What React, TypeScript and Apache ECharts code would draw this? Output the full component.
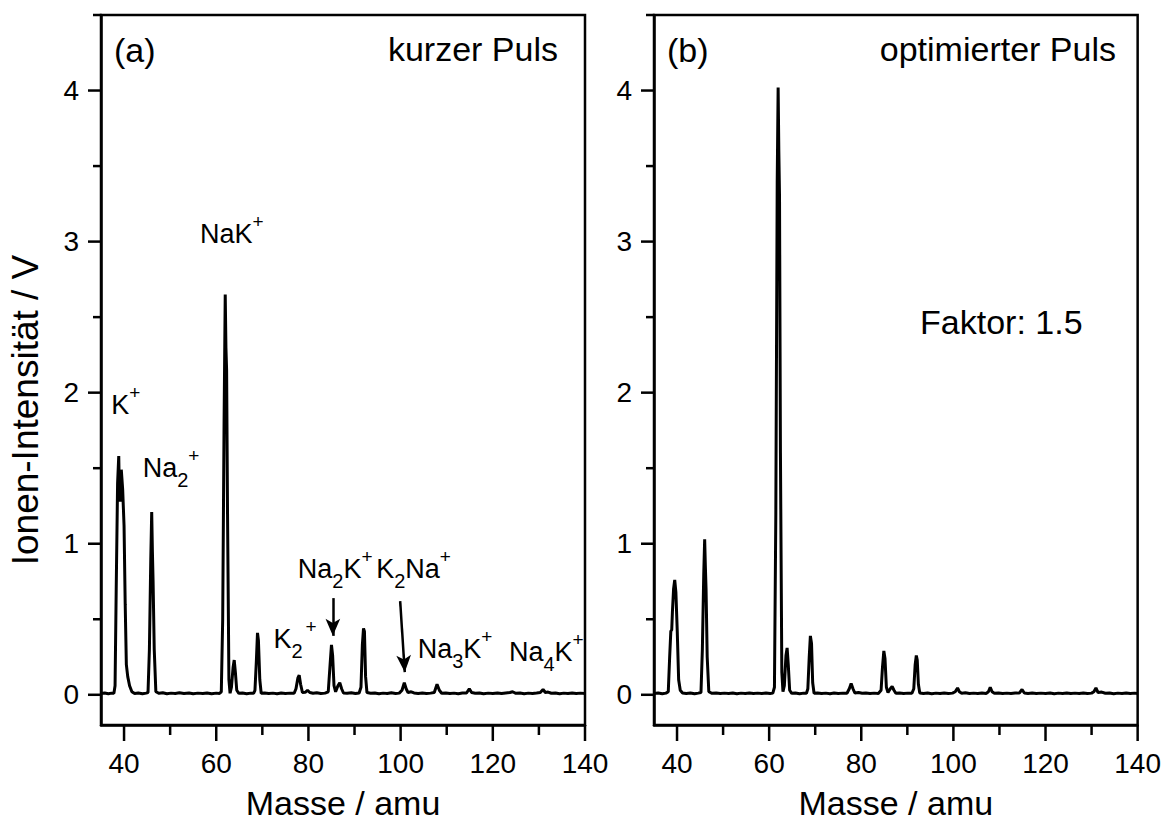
import React, { useEffect, useRef } from "react";
import * as echarts from "echarts";

// ---------- data ----------
const spectrumA: [number, number][] = [
  [35.0, 0.008],[35.8, 0.012],[36.6, 0.007],[37.3, 0.011],[37.8, 0.01],[38.05, 0.06],[38.3, 0.7],[38.6, 1.4],[38.85, 1.58],[39.0, 1.3],[39.15, 1.28],[39.4, 1.49],[39.7, 1.36],[40.0, 1.12],[40.25, 0.6],[40.5, 0.2],[40.8, 0.12],[41.2, 0.06],[41.7, 0.02],[42.3, 0.008],[43.1, 0.012],[44.0, 0.007],[44.8, 0.011],[45.2, 0.015],[45.5, 0.3],[45.8, 0.9],[46.0, 1.21],[46.15, 0.95],[46.3, 0.75],[46.55, 0.3],[46.9, 0.02],[47.6, 0.01],[48.4, 0.013],[49.3, 0.007],[50.2, 0.011],[51.1, 0.009],[52.0, 0.013],[53.0, 0.008],[54.1, 0.012],[55.0, 0.007],[56.0, 0.011],[57.1, 0.009],[58.0, 0.012],[59.0, 0.007],[60.0, 0.011],[60.7, 0.009],[61.1, 0.02],[61.4, 0.5],[61.7, 1.8],[61.95, 2.65],[62.1, 2.3],[62.25, 2.15],[62.45, 1.2],[62.75, 0.1],[63.0, 0.01],[63.3, 0.05],[63.65, 0.18],[63.9, 0.23],[64.15, 0.15],[64.45, 0.03],[64.9, 0.01],[65.7, 0.012],[66.6, 0.007],[67.5, 0.011],[68.1, 0.01],[68.4, 0.03],[68.7, 0.22],[68.95, 0.41],[69.15, 0.36],[69.45, 0.1],[69.75, 0.01],[70.5, 0.012],[71.4, 0.008],[72.3, 0.011],[73.2, 0.007],[74.1, 0.012],[75.0, 0.009],[76.0, 0.011],[76.9, 0.01],[77.3, 0.04],[77.7, 0.11],[78.0, 0.13],[78.3, 0.07],[78.7, 0.015],[79.3, 0.016],[79.8, 0.03],[80.3, 0.015],[81.0, 0.01],[81.8, 0.013],[82.7, 0.008],[83.6, 0.011],[84.3, 0.02],[84.7, 0.2],[85.0, 0.33],[85.25, 0.26],[85.55, 0.06],[85.9, 0.02],[86.4, 0.06],[86.8, 0.08],[87.2, 0.04],[87.6, 0.012],[88.4, 0.01],[89.3, 0.013],[90.2, 0.008],[91.0, 0.012],[91.4, 0.05],[91.7, 0.33],[91.95, 0.44],[92.15, 0.42],[92.4, 0.12],[92.7, 0.015],[93.5, 0.01],[94.4, 0.012],[95.3, 0.007],[96.2, 0.011],[97.1, 0.008],[98.0, 0.013],[98.9, 0.009],[99.7, 0.011],[100.3, 0.03],[100.8, 0.08],[101.2, 0.04],[101.6, 0.015],[102.3, 0.02],[102.9, 0.012],[103.8, 0.009],[104.7, 0.012],[105.6, 0.008],[106.5, 0.011],[107.3, 0.015],[107.9, 0.07],[108.4, 0.03],[108.9, 0.01],[109.8, 0.012],[110.7, 0.008],[111.6, 0.011],[112.5, 0.007],[113.4, 0.012],[114.3, 0.012],[114.9, 0.04],[115.4, 0.015],[116.2, 0.01],[117.1, 0.012],[118.0, 0.007],[119.0, 0.011],[120.0, 0.009],[121.0, 0.012],[121.9, 0.008],[122.8, 0.012],[123.7, 0.015],[124.3, 0.02],[125.0, 0.01],[125.9, 0.012],[126.8, 0.007],[127.7, 0.011],[128.6, 0.009],[129.5, 0.012],[130.3, 0.015],[130.9, 0.035],[131.4, 0.015],[132.0, 0.018],[132.7, 0.01],[133.6, 0.012],[134.5, 0.007],[135.4, 0.011],[136.3, 0.009],[137.2, 0.012],[138.1, 0.008],[139.0, 0.011],[140.0, 0.009],
];

const spectrumB: [number, number][] = [
  [35.0, 0.009],[35.9, 0.012],[36.8, 0.007],[37.6, 0.011],[38.1, 0.02],[38.4, 0.25],[38.65, 0.42],[38.85, 0.43],[39.0, 0.55],[39.25, 0.7],[39.5, 0.76],[39.75, 0.68],[40.05, 0.42],[40.35, 0.1],[40.7, 0.03],[41.2, 0.012],[42.0, 0.009],[42.9, 0.012],[43.8, 0.007],[44.6, 0.011],[45.2, 0.015],[45.5, 0.3],[45.8, 0.8],[46.0, 1.03],[46.15, 0.85],[46.3, 0.7],[46.55, 0.25],[46.9, 0.02],[47.6, 0.01],[48.5, 0.012],[49.4, 0.008],[50.3, 0.011],[51.2, 0.009],[52.1, 0.012],[53.0, 0.007],[53.9, 0.011],[54.8, 0.009],[55.7, 0.012],[56.6, 0.008],[57.5, 0.011],[58.4, 0.009],[59.3, 0.012],[60.2, 0.008],[60.8, 0.011],[61.15, 0.05],[61.45, 1.2],[61.75, 3.4],[61.95, 4.02],[62.1, 3.6],[62.25, 3.3],[62.45, 1.6],[62.75, 0.15],[63.0, 0.02],[63.3, 0.06],[63.65, 0.26],[63.9, 0.31],[64.15, 0.2],[64.45, 0.03],[64.9, 0.01],[65.7, 0.012],[66.6, 0.007],[67.5, 0.011],[68.1, 0.01],[68.4, 0.04],[68.7, 0.25],[68.95, 0.39],[69.1, 0.36],[69.2, 0.34],[69.45, 0.08],[69.75, 0.01],[70.5, 0.012],[71.4, 0.008],[72.3, 0.011],[73.2, 0.007],[74.1, 0.012],[75.0, 0.009],[76.0, 0.011],[76.9, 0.01],[77.4, 0.04],[77.8, 0.075],[78.2, 0.04],[78.6, 0.012],[79.4, 0.015],[80.2, 0.01],[81.0, 0.012],[81.9, 0.008],[82.8, 0.011],[83.7, 0.009],[84.3, 0.03],[84.6, 0.18],[84.9, 0.29],[85.15, 0.24],[85.45, 0.05],[85.8, 0.015],[86.3, 0.04],[86.7, 0.055],[87.1, 0.03],[87.5, 0.01],[88.3, 0.012],[89.2, 0.008],[90.1, 0.011],[91.0, 0.01],[91.4, 0.04],[91.7, 0.2],[91.95, 0.26],[92.15, 0.23],[92.4, 0.07],[92.7, 0.012],[93.5, 0.009],[94.4, 0.012],[95.3, 0.007],[96.2, 0.011],[97.1, 0.008],[98.0, 0.012],[98.9, 0.009],[99.8, 0.011],[100.4, 0.02],[100.9, 0.045],[101.3, 0.02],[101.8, 0.01],[102.6, 0.013],[103.5, 0.008],[104.4, 0.011],[105.3, 0.009],[106.2, 0.012],[107.1, 0.009],[107.6, 0.02],[108.0, 0.05],[108.4, 0.02],[108.9, 0.01],[109.8, 0.012],[110.7, 0.008],[111.6, 0.011],[112.5, 0.009],[113.4, 0.012],[114.3, 0.011],[114.9, 0.035],[115.4, 0.012],[116.2, 0.009],[117.1, 0.012],[118.0, 0.008],[119.0, 0.011],[120.0, 0.009],[121.0, 0.012],[121.9, 0.007],[122.8, 0.011],[123.7, 0.009],[124.6, 0.012],[125.5, 0.008],[126.4, 0.011],[127.3, 0.009],[128.2, 0.012],[129.1, 0.008],[130.0, 0.011],[130.5, 0.02],[130.95, 0.045],[131.4, 0.015],[132.2, 0.018],[133.0, 0.01],[133.9, 0.012],[134.8, 0.007],[135.7, 0.011],[136.6, 0.009],[137.5, 0.012],[138.4, 0.008],[139.3, 0.011],[140.0, 0.009],
];

const X_MIN = 35;
const X_MAX = 140;
const Y_MIN = -0.2;
const Y_MAX = 4.5;
const xMajorTicks = [40, 60, 80, 100, 120, 140];
const xMinorTicks = [50, 70, 90, 110, 130];
const yMajorTicks = [0, 1, 2, 3, 4];
const yMinorTicks = [0.5, 1.5, 2.5, 3.5, 4.5];

const xAxisTitle = "Masse / amu";
const yAxisTitle = "Ionen-Intensität / V";
const panelTags = ["(a)", "(b)"];
const panelTitles = ["kurzer Puls", "optimierter Puls"];

// ion annotations (rich text), anchored at data coordinates
const ionLabelsA: { text: string; at: [number, number] }[] = [
  { text: "{m|NaK}{sup|+}", at: [63.4, 3.05] },
  { text: "{m|K}{sup|+}", at: [40.4, 1.92] },
  { text: "{m|Na}{sub|2}{sup|+}", at: [50.2, 1.5] },
  { text: "{m|K}{sub|2}{sp| }{sup|+}", at: [77.1, 0.37] },
  { text: "{m|Na}{sub|2}{m|K}{sup|+}", at: [85.8, 0.83] },
  { text: "{m|K}{sub|2}{m|Na}{sup|+}", at: [102.8, 0.83] },
  { text: "{m|Na}{sub|3}{m|K}{sup|+}", at: [111.8, 0.3] },
  { text: "{m|Na}{sub|4}{m|K}{sup|+}", at: [131.6, 0.28] },
];
const ionLabelsB: { text: string; at: [number, number] }[] = [
  { text: "{m|Faktor: 1.5}", at: [110.4, 2.47] },
];

// arrows (from, to) in data coordinates
const arrowsA: [[number, number], [number, number]][] = [
  [[85.3, 0.64], [85.3, 0.39]],
  [[99.9, 0.62], [100.9, 0.15]],
];

const FONT = "'Liberation Sans', Arial, Helvetica, sans-serif";

const GRIDS = [
  { left: 101, top: 15, width: 484, height: 718 },
  { left: 654, top: 15, width: 486, height: 718 },
];

const isInt = (v: number) => Math.abs(v - Math.round(v)) < 1e-6;

function tickSeries(gi: number, values: number[], dir: "x" | "y", len: number) {
  return {
    type: "custom",
    xAxisIndex: gi,
    yAxisIndex: gi,
    silent: true,
    clip: false,
    z: 5,
    data: values.map((v) => (dir === "x" ? [v, Y_MIN] : [X_MIN, v])),
    renderItem: (_p: any, api: any) => {
      const p = api.coord([api.value(0), api.value(1)]);
      const shape =
        dir === "x"
          ? { x1: p[0], y1: p[1], x2: p[0], y2: p[1] + len }
          : { x1: p[0] - len, y1: p[1], x2: p[0], y2: p[1] };
      return { type: "line", shape, style: { stroke: "#000", lineWidth: 2.5 } };
    },
  };
}

const rich = {
  m: { fontSize: 27, fontFamily: FONT, color: "#000", lineHeight: 44 },
  sub: { fontSize: 20, fontFamily: FONT, color: "#000", lineHeight: 20, verticalAlign: "bottom" },
  sup: { fontSize: 19, fontFamily: FONT, color: "#000", lineHeight: 20, verticalAlign: "top" },
  sp: { fontSize: 10, fontFamily: FONT, color: "#000", lineHeight: 20 },
};

function labelSeries(gi: number, labels: { text: string; at: [number, number] }[], big = false) {
  return {
    type: "scatter",
    xAxisIndex: gi,
    yAxisIndex: gi,
    silent: true,
    symbolSize: 0,
    z: 10,
    itemStyle: { opacity: 1 },
    data: labels.map((l) => ({ value: l.at, label: { formatter: l.text } })),
    label: {
      show: true,
      position: "inside",
      color: "#000",
      opacity: 1,
      textBorderWidth: 0,
      rich: big ? { ...rich, m: { ...rich.m, fontSize: 34 } } : rich,
    },
  };
}

export default function App() {
  const ref = useRef<HTMLDivElement>(null);
  useEffect(() => {
    if (!ref.current) return;
    const chart = echarts.init(ref.current, undefined, { renderer: "svg" });

    const xAxes = GRIDS.map((_, gi) => ({
      type: "value",
      gridIndex: gi,
      min: X_MIN,
      max: X_MAX,
      interval: 5,
      name: xAxisTitle,
      nameLocation: "middle",
      nameGap: 61,
      nameTextStyle: { fontSize: 34, fontFamily: FONT, color: "#000" },
      axisLine: { show: true, onZero: false, lineStyle: { color: "#000", width: 2.5 } },
      axisTick: { show: false },
      splitLine: { show: false },
      axisLabel: {
        margin: 24,
        fontSize: 28,
        fontFamily: FONT,
        color: "#000",
        formatter: (v: number) => (xMajorTicks.some((t) => Math.abs(t - v) < 1e-6) ? String(Math.round(v)) : ""),
      },
    }));
    const yAxes = GRIDS.map((_, gi) => ({
      type: "value",
      gridIndex: gi,
      min: Y_MIN,
      max: Y_MAX,
      interval: 0.1,
      axisLine: { show: true, onZero: false, lineStyle: { color: "#000", width: 2.5 } },
      axisTick: { show: false },
      splitLine: { show: false },
      axisLabel: {
        margin: 22,
        fontSize: 28,
        fontFamily: FONT,
        color: "#000",
        formatter: (v: number) => (isInt(v) && v >= 0 && yMajorTicks.includes(Math.round(v)) ? String(Math.round(v)) : ""),
      },
    }));

    const option: any = {
      animation: false,
      backgroundColor: "#fff",
      grid: GRIDS.map((g) => ({ ...g, show: true, borderColor: "#000", borderWidth: 2.5, backgroundColor: "transparent" })),
      xAxis: xAxes,
      yAxis: yAxes,
      series: [
        {
          type: "line",
          xAxisIndex: 0,
          yAxisIndex: 0,
          data: spectrumA,
          showSymbol: false,
          symbol: "none",
          lineStyle: { color: "#000", width: 3 },
          silent: true,
          markLine: {
            silent: true,
            symbol: ["none", "arrow"],
            symbolSize: [11, 17],
            label: { show: false },
            lineStyle: { color: "#000", width: 2.5, type: "solid" },
            data: arrowsA.map(([a, b]) => [{ coord: a }, { coord: b }]),
          },
        },
        {
          type: "line",
          xAxisIndex: 1,
          yAxisIndex: 1,
          data: spectrumB,
          showSymbol: false,
          symbol: "none",
          lineStyle: { color: "#000", width: 3 },
          silent: true,
        },
        tickSeries(0, xMajorTicks, "x", 16),
        tickSeries(0, xMinorTicks, "x", 10),
        tickSeries(0, yMajorTicks, "y", 13),
        tickSeries(0, yMinorTicks, "y", 8),
        tickSeries(1, xMajorTicks, "x", 16),
        tickSeries(1, xMinorTicks, "x", 10),
        tickSeries(1, yMajorTicks, "y", 13),
        tickSeries(1, yMinorTicks, "y", 8),
        labelSeries(0, ionLabelsA),
        labelSeries(1, ionLabelsB, true),
      ],
      graphic: [
        {
          type: "text",
          x: 25,
          y: 410,
          rotation: Math.PI / 2,
          style: { text: yAxisTitle, fontSize: 37, fontFamily: FONT, fill: "#000", align: "center", verticalAlign: "middle" },
        },
        {
          type: "text",
          x: 114,
          y: 50,
          style: { text: panelTags[0], fontSize: 34, fontFamily: FONT, fill: "#000", align: "left", verticalAlign: "middle" },
        },
        {
          type: "text",
          x: 558,
          y: 49,
          style: { text: panelTitles[0], fontSize: 34, fontFamily: FONT, fill: "#000", align: "right", verticalAlign: "middle" },
        },
        {
          type: "text",
          x: 667,
          y: 50,
          style: { text: panelTags[1], fontSize: 34, fontFamily: FONT, fill: "#000", align: "left", verticalAlign: "middle" },
        },
        {
          type: "text",
          x: 1116,
          y: 49,
          style: { text: panelTitles[1], fontSize: 34, fontFamily: FONT, fill: "#000", align: "right", verticalAlign: "middle" },
        },
      ],
    };
    chart.setOption(option);
    return () => chart.dispose();
  }, []);
  return (
    <div
      ref={ref}
      style={{ position: "fixed", left: 0, top: 0, width: 1164, height: 825, background: "#fff" }}
    />
  );
}
